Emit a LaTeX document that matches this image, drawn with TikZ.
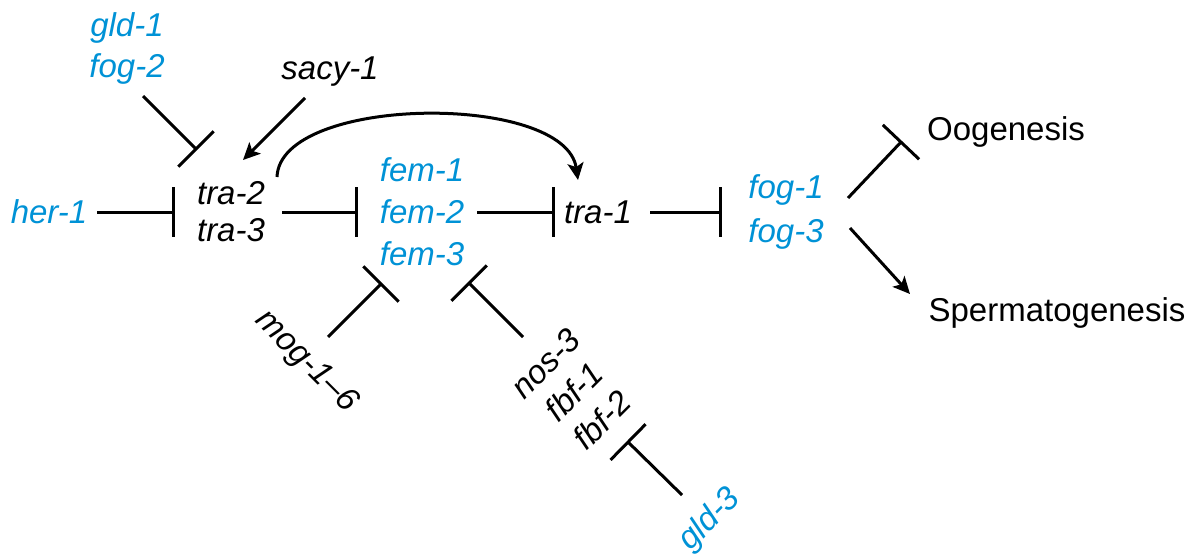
\documentclass[tikz,border=0pt]{standalone}
\usepackage{fontspec}
\setmainfont{Liberation Sans}
\usetikzlibrary{arrows.meta}
\definecolor{geneblue}{RGB}{0,146,214}
\tikzset{
  lbl/.style={inner sep=0pt, align=center, font=\fontsize{33}{37}\selectfont},
  gene/.style={lbl, font=\fontsize{33}{37}\selectfont\itshape},
  bgene/.style={gene, text=geneblue},
  inh/.style={line width=3pt, -{Bar[width=50pt]}},
  act/.style={line width=3pt, -{Stealth[length=17pt,width=16pt,inset=4pt]}},
}
\begin{document}
\begin{tikzpicture}[x=1pt,y=-1pt]
\useasboundingbox (0,0) rectangle (1193,559);
% nodes
\node[bgene] (her1) at (49,212) {her-1};
\node[gene, font=\fontsize{33}{37}\selectfont\itshape] (tra23) at (231,212) {tra-2\\tra-3};
\node[bgene, font=\fontsize{33}{41}\selectfont\itshape] (gf) at (127,48) {gld-1\\fog-2};
\node[gene] (sacy) at (330,72) {sacy-1};
\node[bgene, font=\fontsize{33}{42}\selectfont\itshape] (fem) at (422,212) {fem-1\\fem-2\\fem-3};
\node[gene] (tra1) at (598,212) {tra-1};
\node[bgene, font=\fontsize{33}{44}\selectfont\itshape] (fog) at (786,212) {fog-1\\fog-3};
\node[lbl] (oog) at (1006,132) {Oogenesis};
\node[lbl] (sperm) at (1057,313) {Spermatogenesis};
\node[gene, rotate=-45] (mog) at (306,362) {mog-1--6};
\node[gene, rotate=45, font=\fontsize{33}{40}\selectfont\itshape] (nos) at (574,392) {nos-3\\fbf-1\\fbf-2};
\node[bgene, rotate=45] (gld3) at (710,520) {gld-3};
% connector end points
\coordinate (her1-o) at (97,212);   \coordinate (tra23-a) at (175,212);
\coordinate (gf-o) at (143,96);     \coordinate (tra23-b) at (197,150);
\coordinate (sacy-o) at (305,98);   \coordinate (tra23-c) at (243,160);
\coordinate (tra23-d) at (277,177); \coordinate (tra1-a) at (578,180);
\coordinate (tra23-o) at (282,212); \coordinate (fem-a) at (358,212);
\coordinate (fem-o) at (477,212);   \coordinate (tra1-b) at (555,212);
\coordinate (tra1-o) at (650,212);  \coordinate (fog-a) at (722,212);
\coordinate (fog-o1) at (848,198);  \coordinate (oog-a) at (902,141);
\coordinate (fog-o2) at (850,228);  \coordinate (sperm-a) at (910,294);
\coordinate (mog-o) at (328,337);   \coordinate (fem-b) at (382,283);
\coordinate (nos-o) at (523,337);   \coordinate (fem-c) at (468,282);
\coordinate (gld3-o) at (682,495);  \coordinate (nos-a) at (627,441);
% connectors
\draw[inh] (her1-o) -- (tra23-a);
\draw[inh] (gf-o) -- (tra23-b);
\draw[act] (sacy-o) -- (tra23-c);
\draw[act] (tra23-d) .. controls (280,95) and (565,92) .. (tra1-a);
\draw[inh] (tra23-o) -- (fem-a);
\draw[inh] (fem-o) -- (tra1-b);
\draw[inh] (tra1-o) -- (fog-a);
\draw[inh] (fog-o1) -- (oog-a);
\draw[act] (fog-o2) -- (sperm-a);
\draw[inh] (mog-o) -- (fem-b);
\draw[inh] (nos-o) -- (fem-c);
\draw[inh] (gld3-o) -- (nos-a);
\end{tikzpicture}
\end{document}
